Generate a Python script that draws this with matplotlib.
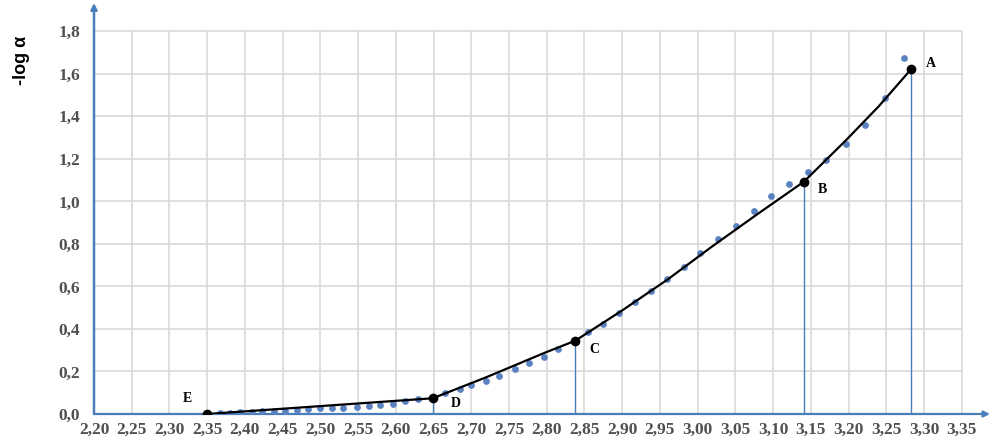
import matplotlib
matplotlib.use("Agg")
import matplotlib.pyplot as plt
import numpy as np

# ---- data ----
x_ticks = [2.20, 2.25, 2.30, 2.35, 2.40, 2.45, 2.50, 2.55, 2.60, 2.65, 2.70, 2.75,
           2.80, 2.85, 2.90, 2.95, 3.00, 3.05, 3.10, 3.15, 3.20, 3.25, 3.30, 3.35]
y_ticks = [0.0, 0.2, 0.4, 0.6, 0.8, 1.0, 1.2, 1.4, 1.6, 1.8]

# experimental points (blue)
pts_x = [2.367, 2.380, 2.393, 2.409, 2.422, 2.438, 2.453, 2.469, 2.484, 2.500,
         2.515, 2.530, 2.548, 2.564, 2.579, 2.596, 2.612, 2.630,
         2.665, 2.685, 2.700, 2.719, 2.737, 2.758, 2.777, 2.796, 2.815,
         2.855, 2.875, 2.896, 2.917, 2.938, 2.960, 2.982, 3.003, 3.027,
         3.051, 3.075, 3.097, 3.121, 3.146, 3.170, 3.197, 3.222, 3.249, 3.274]
pts_y = [0.003, 0.005, 0.008, 0.011, 0.014, 0.013, 0.015, 0.019, 0.022, 0.026,
         0.028, 0.030, 0.034, 0.039, 0.042, 0.047, 0.063, 0.069,
         0.100, 0.116, 0.135, 0.157, 0.179, 0.210, 0.239, 0.270, 0.304,
         0.384, 0.424, 0.474, 0.527, 0.580, 0.634, 0.693, 0.756, 0.822,
         0.886, 0.957, 1.025, 1.081, 1.137, 1.195, 1.269, 1.357, 1.488, 1.674]

# fitted broken line (black)
line_x = [2.350, 2.649, 2.720, 2.796, 2.838, 2.900, 2.960, 3.020, 3.080, 3.141,
          3.197, 3.240, 3.283]
line_y = [0.000, 0.074, 0.173, 0.286, 0.345, 0.487, 0.632, 0.790, 0.942, 1.093,
          1.289, 1.447, 1.622]

# key points
key_labels = ["A", "B", "C", "D", "E"]
key_x = [3.283, 3.141, 2.838, 2.649, 2.350]
key_y = [1.622, 1.093, 0.345, 0.074, 0.000]

# ---- styling ----
blue = "#4a7ebb"
dot_blue = "#5b82c0"
grid_c = "#d9d9d9"
W, H = 996, 447
fig = plt.figure(figsize=(W / 100, H / 100), dpi=100)
x0, x1 = 94, 990   # px
yb, yt = 414, 3    # px
ax = fig.add_axes([x0 / W, (H - yb) / H, (x1 - x0) / W, (yb - yt) / H])

xmin, xmax_grid = 2.20, 3.35
ymin, ymax_grid = 0.0, 1.8
px_per_x = (961.7 - 94) / (xmax_grid - xmin)
px_per_y = (414 - 31.3) / (ymax_grid - ymin)
ax.set_xlim(xmin, xmax_grid + (x1 - 961.7) / px_per_x)
ax.set_ylim(ymin, ymax_grid + (31.3 - yt) / px_per_y)

# grid
ax.vlines(x_ticks[1:], 0, ymax_grid, color=grid_c, lw=1.2, zorder=0)
ax.hlines(y_ticks[1:], xmin, xmax_grid, color=grid_c, lw=1.2, zorder=0)

# spines as arrows
for s in ["top", "right", "left", "bottom"]:
    ax.spines[s].set_visible(False)
xl = ax.get_xlim(); yl = ax.get_ylim()
ax.annotate("", xy=(xl[1], 0), xytext=(xmin, 0),
            arrowprops=dict(arrowstyle="-|>", color=blue, lw=1.6,
                            mutation_scale=9, shrinkA=0, shrinkB=0),
            annotation_clip=False, zorder=1)
ax.annotate("", xy=(xmin, yl[1]), xytext=(xmin, 0),
            arrowprops=dict(arrowstyle="-|>", color=blue, lw=1.8,
                            mutation_scale=9, shrinkA=0, shrinkB=0),
            annotation_clip=False, zorder=1)

# drop lines
for kx, ky in zip(key_x[:4], key_y[:4]):
    ax.plot([kx, kx], [0, ky], color=blue, lw=1.0, zorder=2)

# data points
ax.scatter(pts_x, pts_y, s=24, color=dot_blue, zorder=3, linewidths=0)

# black line
ax.plot(line_x, line_y, color="black", lw=1.6, zorder=4)
ax.scatter(key_x, key_y, s=36, color="black", zorder=5)

# key labels
offsets = [(14, 4), (13, -6), (14, -6.5), (16.5, -3.6), (-14, 11.5)]
for lab, kx, ky, off in zip(key_labels, key_x, key_y, offsets):
    ax.annotate(lab, (kx, ky), xytext=off, textcoords="offset points",
                ha="center", va="center", fontsize=10, fontweight="bold",
                family="Liberation Serif", color="black")

# ticks
ax.set_xticks(x_ticks)
ax.set_xticklabels([f"{v:.2f}".replace(".", ",") for v in x_ticks])
ax.set_yticks(y_ticks)
ax.set_yticklabels([f"{v:.1f}".replace(".", ",") for v in y_ticks])
ax.tick_params(axis="both", length=0, labelsize=12.5, labelcolor="#505050")
ax.tick_params(axis="x", pad=6)
ax.tick_params(axis="y", pad=10)
for t in ax.get_xticklabels() + ax.get_yticklabels():
    t.set_family("Liberation Serif")
    t.set_fontweight("bold")

fig.text(22 / W, 1 - 60 / H, "-log α", rotation=90, ha="center", va="center",
         fontsize=13, fontweight="bold", family="Liberation Sans", color="black")

fig.savefig("out.png", dpi=100)
